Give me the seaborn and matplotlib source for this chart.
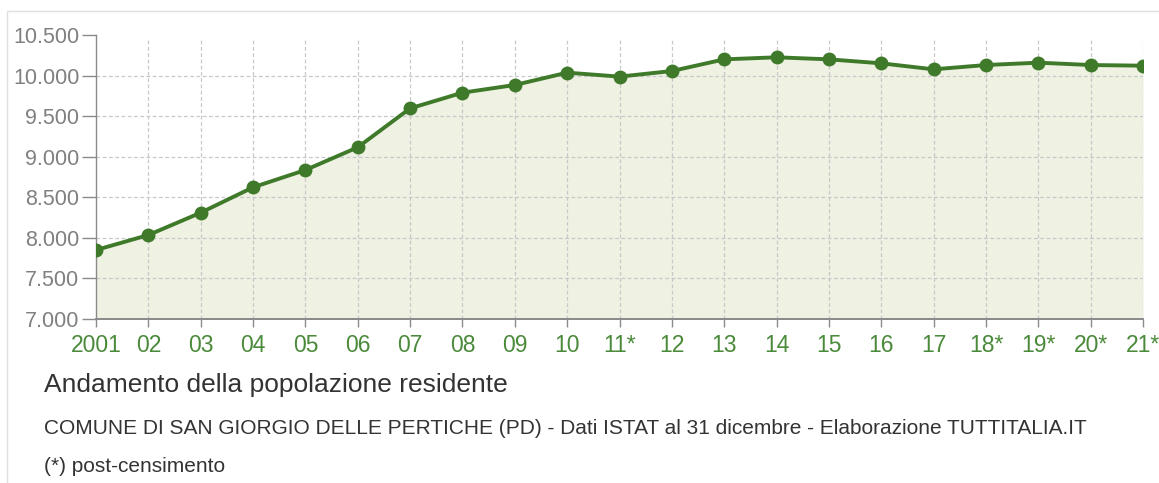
import matplotlib
matplotlib.use("Agg")
import matplotlib.pyplot as plt
import seaborn as sns
import pandas as pd
from matplotlib.patches import Rectangle

years = ["2001", "02", "03", "04", "05", "06", "07", "08", "09", "10", "11*",
         "12", "13", "14", "15", "16", "17", "18*", "19*", "20*", "21*"]
population = [7850, 8035, 8310, 8623, 8836, 9116, 9596, 9789, 9884, 10036, 9987,
              10056, 10200, 10225, 10200, 10151, 10077, 10130, 10159, 10130, 10122]
y_ticks = [7000, 7500, 8000, 8500, 9000, 9500, 10000, 10500]
y_labels = ["7.000", "7.500", "8.000", "8.500", "9.000", "9.500", "10.000", "10.500"]

title = "Andamento della popolazione residente"
subtitle = "COMUNE DI SAN GIORGIO DELLE PERTICHE (PD) - Dati ISTAT al 31 dicembre - Elaborazione TUTTITALIA.IT"
note = "(*) post-censimento"

sns.set_style("white")
plt.rcParams["font.family"] = ["Liberation Sans", "DejaVu Sans"]

df = pd.DataFrame({"pos": list(range(len(years))), "pop": population})

fig = plt.figure(figsize=(11.59, 4.83), dpi=100)
ax = fig.add_axes([96 / 1159, 1 - 319 / 483, (1143 - 96) / 1159, (319 - 35) / 483])

line_color = "#3f7a2b"
ax.fill_between(df["pos"], df["pop"], 7000, color="#eff1e3", zorder=1, linewidth=0)
sns.lineplot(data=df, x="pos", y="pop", ax=ax, color=line_color, linewidth=2.8,
             marker="o", markersize=10, markeredgewidth=0, zorder=3)

ax.set_xlim(0, len(years) - 1)
ax.set_ylim(7000, 10500)
ax.set_xticks(range(len(years)))
ax.set_xticklabels(years)
ax.set_yticks(y_ticks)
ax.set_yticklabels(y_labels)
ax.set_xlabel("")
ax.set_ylabel("")

for t in y_ticks[1:-1]:
    ax.axhline(t, color="#c8c8c8", linestyle=(0, (3, 2)), linewidth=0.9, zorder=2)
for i in range(1, len(years)):
    ax.plot([i, i], [7000, 10460], color="#c8c8c8", linestyle=(0, (3, 2)),
            linewidth=0.9, zorder=2)

for s in ["top", "right"]:
    ax.spines[s].set_visible(False)
ax.spines["left"].set_color("#8a8a8a")
ax.spines["bottom"].set_color("#8a8a8a")
ax.spines["left"].set_linewidth(1.0)
ax.spines["bottom"].set_linewidth(1.4)

ax.tick_params(axis="y", left=True, length=10, width=1.0, color="#8a8a8a", pad=2,
               labelsize=15.5, labelcolor="#808080")
ax.tick_params(axis="x", bottom=True, length=6, width=1.0, color="#8a8a8a", pad=5,
               labelsize=16.5, labelcolor="#4a8a3a")

fig.text(44 / 1159, 1 - 385 / 483, title, fontsize=19, color="#333333", va="center")
fig.text(44 / 1159, 1 - 428 / 483, subtitle, fontsize=15, color="#333333", va="center")
fig.text(44 / 1159, 1 - 467 / 483, note, fontsize=15, color="#333333", va="center")

fig.add_artist(Rectangle((7 / 1159, -0.1), 1.2, 1 - 11 / 483 + 0.1,
                         transform=fig.transFigure, fill=False,
                         edgecolor="#e0e0e0", linewidth=1.0))

fig.savefig("out.png", dpi=100)
